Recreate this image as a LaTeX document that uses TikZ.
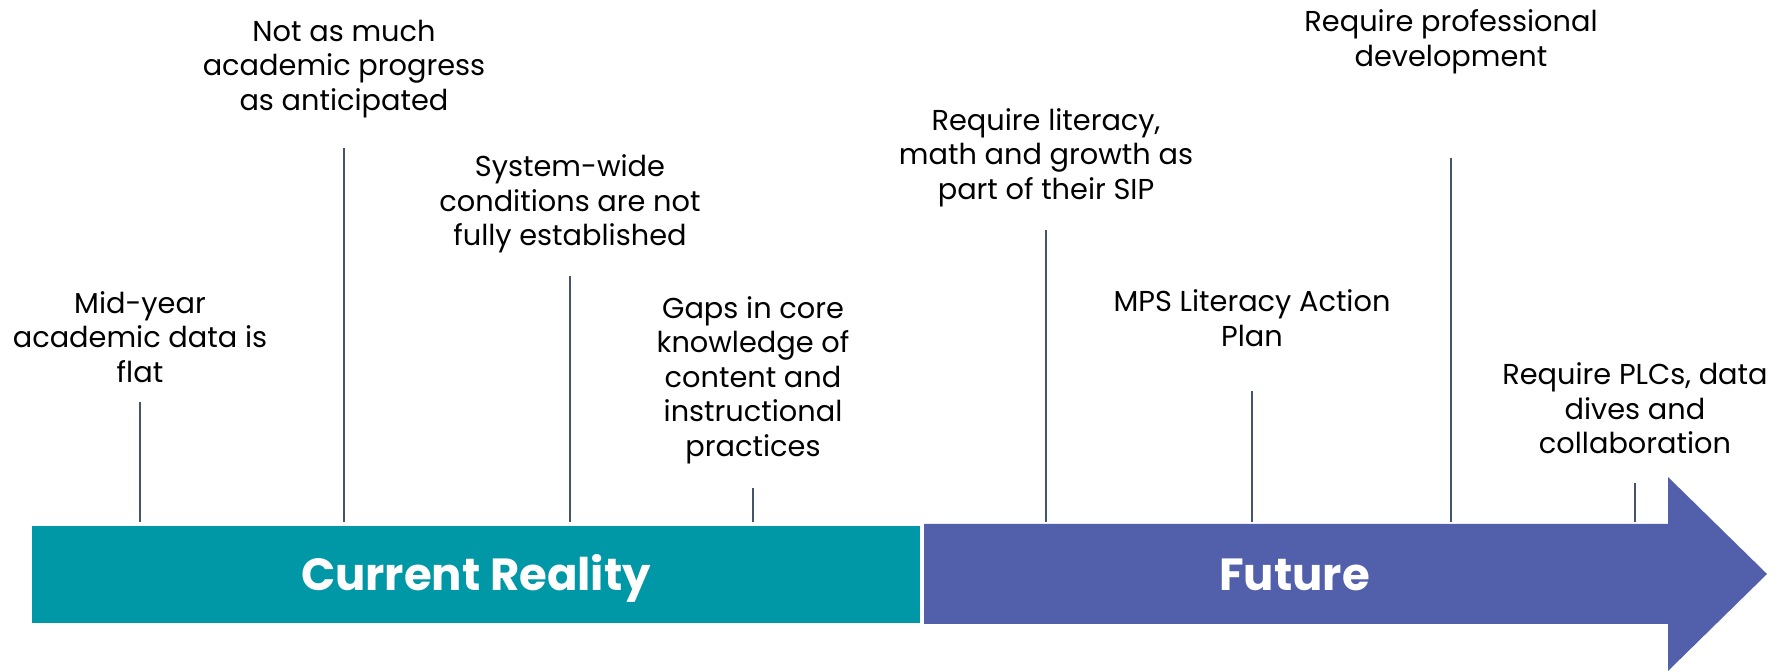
\documentclass[tikz,border=0pt]{standalone}
\usepackage{fontspec}
\setmainfont{Poppins}
\definecolor{reality}{RGB}{0,151,167}
\definecolor{future}{RGB}{82,96,171}
\definecolor{tickline}{RGB}{68,84,106}

\tikzset{every picture/.style={line width=0.75pt}}
\tikzset{
  tick/.style={draw=tickline, line width=1pt, shorten >=1.75pt},
  note/.style={align=center, inner sep=0pt, font=\fontsize{14.4}{17.25}\selectfont},
  phase/.style={text=white, inner sep=0pt, anchor=base, font=\fontsize{22.5}{27}\selectfont\bfseries}
}

\begin{document}
\begin{tikzpicture}[x=0.5pt,y=0.5pt,yscale=-1,xscale=1]
	\useasboundingbox (0,0) rectangle (1790,672);

	%Shape: Rectangle
	\node [fill=reality, inner sep=0pt, minimum width=444pt, minimum height=48.5pt] (cur) at (476,574.5) {};
	%Shape: Right Arrow
	\fill [future] (924,524) -- (1668,524) -- (1668,477) -- (1767,574) -- (1668,671) -- (1668,624) -- (924,624) -- cycle ;
	% Text Node
	\node [phase] (curlabel) at (476,591) {Current Reality};
	% Text Node
	\node [phase] (futlabel) at (1294.5,591) {Future};

	% Text Node
	\node [note] (flat) at (140,337) {Mid-year\\academic data is\\flat};
	% Text Node
	\node [note] (prog) at (344,69) {Not as much\\academic progress\\as anticipated};
	% Text Node
	\node [note] (cond) at (570,204) {System-wide\\conditions are not\\fully established};
	% Text Node
	\node [note] (gaps) at (753,380) {Gaps in core\\knowledge of\\content and\\instructional\\practices};
	% Text Node
	\node [note] (sip) at (1046,157.3) {Require literacy,\\math and growth as\\part of their SIP};
	% Text Node
	\node [note] (plan) at (1252,318.3) {MPS Literacy Action\\Plan};
	% Text Node
	\node [note] (prof) at (1451,41.7) {Require professional\\development};
	% Text Node
	\node [note] (plc) at (1635,408.5) {Require PLCs, data\\dives and\\collaboration};

	%Straight Lines
	\coordinate (t1) at (140,402);
	\coordinate (t2) at (344,148);
	\coordinate (t3) at (570,276);
	\coordinate (t4) at (753,488);
	\coordinate (t5) at (1046,230);
	\coordinate (t6) at (1252,391);
	\coordinate (t7) at (1451,158);
	\coordinate (t8) at (1635,483);
	\foreach \t in {t1,t2,t3,t4,t5,t6,t7,t8}
		\draw [tick] (\t) -- (\t |- cur.north) ;

\end{tikzpicture}
\end{document}
